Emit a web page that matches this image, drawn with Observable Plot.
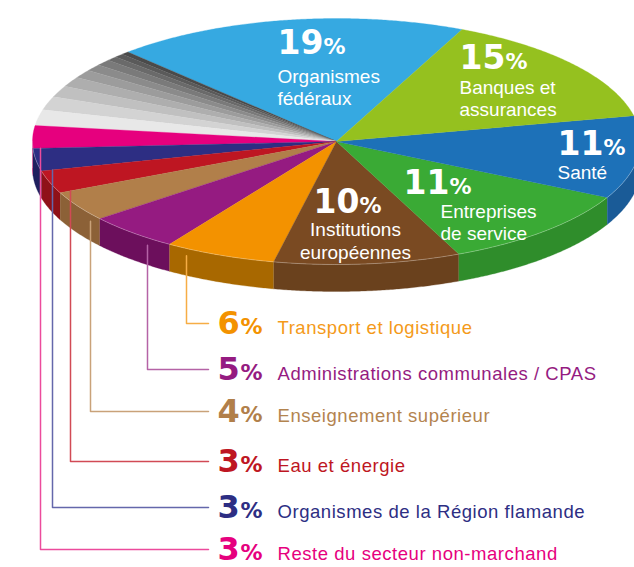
<!DOCTYPE html>
<html><head><meta charset="utf-8">
<script src="https://cdn.jsdelivr.net/npm/d3@7"></script>
<script src="https://cdn.jsdelivr.net/npm/@observablehq/plot@0.6"></script>
<style>html,body{margin:0;padding:0;background:#fff}#chart svg{display:block}</style>
</head><body><div id="chart"></div>
<script>
// ---- data (pie order, counter-clockwise starting at the top) ----
const sectorNames = ["Organismes fédéraux","Reste du secteur non-marchand","Organismes de la Région flamande","Eau et énergie","Enseignement supérieur","Administrations communales / CPAS","Transport et logistique","Institutions européennes","Entreprises de service","Santé","Banques et assurances"];
const sectorShares = [19,3,3,3,4,5,6,10,11,11,15];
const sectorColors = ["#36a9e1","#e6007e","#2d2e83","#be1622","#b17f4a","#951b81","#f39200","#7a4a22","#3aaa35","#1d71b8","#95c11f"];
const sectorSideColors = [null,"#a8005c","#1f205e","#8f1118","#8c6137","#6c0f5c","#a86800","#6a411d","#2f8d2b","#1a5b97",null];
// unlabelled grey slices (estimated)
const otherShares = [0.4,0.5,0.6,0.8,0.9,1.1,1.3,1.5,1.8,2.1];
const otherColors = ["#4a4a4a","#5a5a5a","#6a6a6a","#7a7a7a","#8b8b8b","#9c9c9c","#aeaeae","#c0c0c0","#d3d3d3","#e8e8e8"];
// labels
const pctLabels = ["19","15","11","11","10"];
const pieLabelNames = ["Organismes\nfédéraux","Banques et\nassurances","Santé","Entreprises\nde service","Institutions\neuropéennes"];
const listPct = ["6","5","4","3","3","3"];
const listNames = ["Transport et logistique","Administrations communales / CPAS","Enseignement supérieur","Eau et énergie","Organismes de la Région flamande","Reste du secteur non-marchand"];
const listColors = ["#f39200","#951b81","#b17f4a","#be1622","#2d2e83","#e6007e"];
const listTextColors = ["#f49a1a","#951b81","#b3844f","#be1622","#2d2e83","#e6007e"];
const leaderColors = ["#f6ad45","#b563a6","#c9a279","#d14a55","#6467ab","#ec4b9c"];

// ---- geometry (layout) ----
const CX = 336, CY = 141, RX = 304, RY = 123, DEPTH = 27;
const ux = p => (p - CX) / RX, uy = p => (CY - p) / RY;
const D = DEPTH / RY;
const startAngle = 65.6;

const slices = [];
slices.push({name:sectorNames[0], share:sectorShares[0], color:sectorColors[0], side:sectorSideColors[0]});
otherShares.forEach((s,i)=>slices.push({name:"Autres", share:s, color:otherColors[i], side:null}));
for (let i=1;i<sectorNames.length;i++) slices.push({name:sectorNames[i], share:sectorShares[i], color:sectorColors[i], side:sectorSideColors[i]});
const total = d3.sum(slices, d=>d.share);
let acc = startAngle;
slices.forEach((s,i)=>{s.id=i; s.a0=acc; s.a1=acc+s.share/total*360; acc=s.a1;});
const rad = a => a*Math.PI/180;
function arc(a0,a1,dy=0){
  const n = Math.max(2, Math.ceil((a1-a0)/0.4));
  return d3.range(n+1).map(k=>{const t=rad(a0+(a1-a0)*k/n); return [Math.cos(t), Math.sin(t)-dy];});
}
const topPts = slices.flatMap(s=>[[0,0],...arc(s.a0,s.a1),[0,0]].map(([x,y])=>({x,y,id:s.id,color:s.color})));
const sidePts = slices.filter(s=>s.side).flatMap(s=>{
  const lo=Math.max(s.a0,180), hi=Math.min(s.a1,360);
  if (hi<=lo) return [];
  return [...arc(lo,hi),...arc(lo,hi,D).reverse()].map(([x,y])=>({x,y,id:s.id,color:s.side}));
});
const rimPts = arc(180,360).map(([x,y])=>({x,y}));

// pie labels layout (pixels)
const pieLayout = [
  {nx:277, ny:53, tx:277, ty:104},
  {nx:459, ny:68, tx:459, ty:115},
  {nx:557, ny:154, tx:557, ty:178},
  {nx:403, ny:193, tx:440, ty:239},
  {nx:313, ny:212, tx:355, ty:258}
];
const pieNum = pctLabels.map((t,i)=>({t, x:ux(pieLayout[i].nx), y:uy(pieLayout[i].ny)}));
const piePct = pctLabels.map((t,i)=>({t:"%", x:ux(pieLayout[i].nx+46), y:uy(pieLayout[i].ny)}));
const pieTxt = pieLabelNames.map((t,i)=>({t, x:ux(pieLayout[i].tx), y:uy(pieLayout[i].ty)}));
const pieTxtStart = pieTxt.slice(0,4), pieTxtMid = pieTxt.slice(4);

// list labels layout
const lineX = [186,147,90,70,52,40];
const rowY = [323,369,411,461,507,549];
const listSlice = listNames.map(n=>slices.find(s=>s.name===n));
const leaderPts = listNames.flatMap((n,i)=>{
  const x = ux(lineX[i]);
  const s = listSlice[i];
  const bY = x*Math.tan(rad(s.a1));
  const rimY = -Math.sqrt(1-x*x);
  const y0 = Math.max(bY, rimY-0.06);
  return [[x,y0],[x,uy(rowY[i])],[ux(208),uy(rowY[i])]].map(([px,py])=>({x:px,y:py,id:i,color:leaderColors[i]}));
});
const listNum = listPct.map((t,i)=>({t, x:ux(217), y:uy(rowY[i]+10.5), color:listColors[i]}));
const listPctSign = listPct.map((t,i)=>({t:"%", x:ux(240), y:uy(rowY[i]+10.5), color:listColors[i]}));
const listTxt = listNames.map((t,i)=>({t, x:ux(277), y:uy(rowY[i]+10.5), color:listTextColors[i]}));

const NUMFONT = "'DejaVu Sans', sans-serif";
const TXTFONT = "'Liberation Sans', Arial, sans-serif";

const chart = Plot.plot({
  width:634, height:567, margin:0,
  x:{domain:[-1,1], range:[CX-RX, CX+RX], axis:null},
  y:{domain:[-1,1], range:[CY+RY, CY-RY], axis:null},
  color:{type:"identity"},
  style:{background:"#fff", overflow:"hidden"},
  marks:[
    Plot.line(sidePts, {x:"x", y:"y", z:"id", fill:"color", stroke:"color", strokeWidth:0.3, curve:"linear"}),
    Plot.line(topPts, {x:"x", y:"y", z:"id", fill:"color", stroke:"color", strokeWidth:0.3, curve:"linear"}),
    Plot.line(rimPts, {x:"x", y:"y", stroke:"#fff", strokeOpacity:0.35, strokeWidth:0.8}),
    Plot.line(leaderPts, {x:"x", y:"y", z:"id", stroke:"color", strokeWidth:1.5, curve:"linear"}),
    Plot.text(pieNum, {x:"x", y:"y", text:"t", fill:"#fff", fontSize:33, fontWeight:"bold", fontFamily:NUMFONT, textAnchor:"start", lineAnchor:"bottom"}),
    Plot.text(piePct, {x:"x", y:"y", text:"t", fill:"#fff", fontSize:22, fontWeight:"bold", fontFamily:NUMFONT, textAnchor:"start", lineAnchor:"bottom"}),
    Plot.text(pieTxtStart, {x:"x", y:"y", text:"t", fill:"#fff", fontSize:19, fontFamily:TXTFONT, textAnchor:"start", lineAnchor:"bottom", lineHeight:22/19}),
    Plot.text(pieTxtMid, {x:"x", y:"y", text:"t", fill:"#fff", fontSize:19, fontFamily:TXTFONT, textAnchor:"middle", lineAnchor:"bottom", lineHeight:23/19}),
    Plot.text(listNum, {x:"x", y:"y", text:"t", fill:"color", fontSize:32, fontWeight:"bold", fontFamily:NUMFONT, textAnchor:"start", lineAnchor:"bottom"}),
    Plot.text(listPctSign, {x:"x", y:"y", text:"t", fill:"color", fontSize:22, fontWeight:"bold", fontFamily:NUMFONT, textAnchor:"start", lineAnchor:"bottom"}),
    Plot.text(listTxt, {x:"x", y:"y", text:"t", fill:"color", fontSize:18.5, fontFamily:TXTFONT, textAnchor:"start", lineAnchor:"bottom"})
  ]
});
d3.select(chart).selectAll("text").filter(function(){ return listNames.includes(this.textContent); }).style("letter-spacing","0.55px");
document.getElementById("chart").appendChild(chart);
</script>
</body></html>
